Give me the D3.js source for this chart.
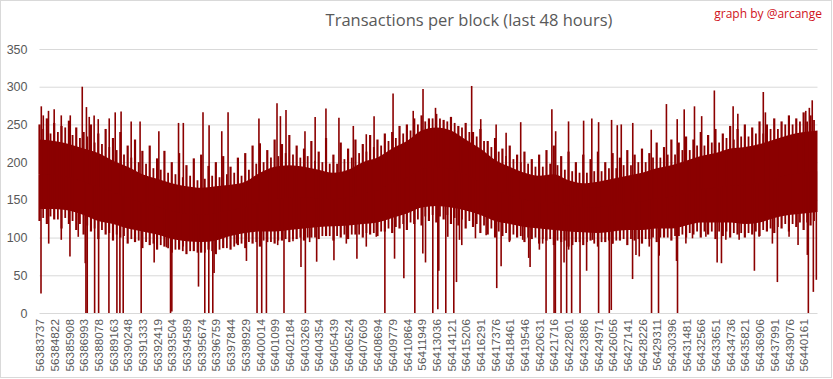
<!DOCTYPE html>
<html>
<head>
<meta charset="utf-8">
<script src="https://cdn.jsdelivr.net/npm/d3@7"></script>
<style>
	body { margin: 0; background: #fff; }
	svg { display: block; }
</style>
</head>
<body>
<div id="chart"></div>
<script>
var firstBlock = 56383737,
	lastBlock = 56441186;

// category labels shown on the x axis (every 1085th block)
var tickLabels = [
	"56383737", "56384822", "56385908", "56386993", "56388078", "56389163", "56390248", "56391333",
	"56392419", "56393504", "56394589", "56395674", "56396759", "56397844", "56398929", "56400014",
	"56401099", "56402184", "56403269", "56404354", "56405439", "56406524", "56407609", "56408694",
	"56409779", "56410864", "56411949", "56413036", "56414121", "56415206", "56416291", "56417376",
	"56418461", "56419546", "56420631", "56421716", "56422801", "56423886", "56424971", "56426056",
	"56427141", "56428226", "56429311", "56430396", "56431481", "56432566", "56433651", "56434736",
	"56435821", "56436906", "56437991", "56439076", "56440161"
];

// dense part of the series, upper and lower edge at each label (+ last block)
var coreTop = [
	230, 228, 224, 218, 212, 202, 194, 184, 178, 172, 168, 166, 168, 170, 174, 186, 194, 196,
	194, 190, 186, 190, 200, 206, 218, 228, 242, 246, 242, 230, 218, 203, 194, 186, 182, 184,
	176, 172, 174, 178, 182, 186, 192, 196, 202, 208, 212, 218, 220, 224, 230, 236, 240, 242
];
var coreBottom = [
	138, 138, 136, 130, 122, 118, 112, 108, 104, 98, 95, 94, 96, 102, 106, 108, 108, 110,
	112, 114, 115, 116, 118, 120, 126, 132, 140, 142, 140, 136, 130, 122, 118, 114, 112, 110,
	108, 107, 106, 108, 110, 110, 112, 112, 116, 120, 120, 120, 118, 120, 126, 130, 132, 134
];

// how far the crowded spikes reach, at each label and half way to the next
var upperFringe = [
	250, 258, 252, 248, 255, 246, 240, 250, 238, 244, 232, 240, 222, 230, 215, 222, 205, 215,
	200, 212, 196, 205, 210, 195, 200, 208, 194, 206, 212, 222, 225, 216, 230, 224, 236, 222,
	218, 228, 214, 232, 210, 226, 218, 230, 224, 236, 230, 238, 240, 248, 250, 258, 262, 258,
	264, 256, 260, 248, 252, 240, 244, 228, 232, 218, 222, 210, 214, 204, 210, 216, 222, 208,
	214, 200, 210, 204, 214, 200, 212, 206, 216, 210, 218, 212, 226, 220, 230, 226, 234, 230,
	240, 236, 244, 238, 248, 244, 250, 246, 254, 250, 258, 254, 262, 258, 266, 262
];
var lowerFringe = [
	122, 118, 124, 112, 118, 110, 104, 108, 98, 104, 96, 100, 92, 94, 86, 90, 84, 88,
	80, 84, 78, 82, 80, 84, 78, 86, 84, 90, 86, 92, 88, 94, 92, 96, 94, 98,
	96, 100, 98, 102, 96, 100, 98, 104, 100, 104, 102, 108, 106, 112, 110, 118, 116, 122,
	120, 124, 118, 116, 112, 114, 106, 104, 100, 102, 96, 100, 94, 98, 92, 96, 90, 94,
	88, 94, 90, 96, 88, 94, 92, 96, 90, 96, 92, 98, 94, 100, 96, 102, 100, 104,
	100, 104, 98, 102, 100, 104, 100, 104, 102, 108, 106, 112, 108, 114, 110, 116
];

// closer spikes, a quarter and three quarters of the way between labels
var innerUpper = [
	244, 238, 240, 246, 236, 232, 234, 226, 224, 220, 216, 210, 206, 200, 198, 192, 190, 186,
	184, 180, 182, 176, 178, 182, 180, 184, 186, 182, 190, 198, 200, 206, 208, 212, 210, 206,
	208, 202, 200, 198, 198, 204, 206, 212, 214, 220, 222, 228, 232, 238, 242, 250, 254, 258,
	258, 254, 252, 246, 240, 234, 228, 220, 214, 208, 204, 200, 198, 194, 194, 198, 196, 190,
	188, 186, 186, 188, 188, 192, 192, 196, 196, 200, 200, 206, 206, 210, 210, 216, 216, 222,
	222, 226, 226, 232, 230, 234, 234, 238, 238, 244, 244, 250, 250, 254, 254, 256
];
var innerLower = [
	126, 128, 124, 126, 122, 118, 116, 112, 110, 106, 104, 102, 98, 96, 94, 92, 90, 86,
	84, 82, 82, 80, 80, 82, 84, 86, 88, 92, 94, 94, 96, 94, 96, 98, 98, 100,
	100, 100, 102, 102, 102, 104, 104, 104, 106, 106, 108, 112, 114, 118, 120, 124, 128, 130,
	128, 130, 126, 124, 122, 118, 116, 112, 108, 106, 104, 102, 100, 100, 98, 98, 96, 96,
	94, 94, 94, 92, 94, 96, 96, 98, 98, 98, 98, 100, 100, 100, 102, 104, 106, 108,
	108, 108, 108, 108, 106, 106, 106, 108, 110, 112, 114, 118, 118, 120, 120, 122
];

// single blocks going above the dense part [block, transactions]
var peaks = [
	[56383870, 274], [56384017, 262], [56384401, 268], [56384821, 270], [56385345, 262], [56386009, 262],
	[56386894, 300], [56387203, 273], [56387410, 260], [56387771, 262], [56388074, 257], [56388885, 258],
	[56389327, 266], [56389762, 267], [56390507, 254], [56391164, 254], [56392550, 241], [56394003, 252],
	[56394357, 252], [56395810, 266], [56396260, 249], [56397196, 241], [56397661, 266], [56399940, 258],
	[56401275, 278], [56401526, 261], [56401939, 269], [56403340, 241], [56404092, 260], [56404889, 271],
	[56405847, 259], [56406909, 248], [56407868, 237], [56408443, 261], [56409845, 291], [56411334, 268],
	[56412057, 297], [56412979, 272], [56415649, 301], [56416320, 257], [56417456, 250], [56418193, 239],
	[56419270, 253], [56421571, 270], [56421851, 241], [56422802, 254], [56423916, 255], [56424521, 258],
	[56425022, 253], [56425981, 256], [56426401, 249], [56426696, 250], [56427545, 252], [56428909, 243],
	[56430030, 277], [56430826, 257], [56431343, 270], [56432102, 274], [56432633, 261], [56433570, 295],
	[56434956, 274], [56435303, 264], [56437184, 293], [56437339, 266], [56440318, 268], [56440583, 272],
	[56440797, 282]
];

// single blocks going below the dense part [block, transactions]
var dips = [
	[56383848, 26], [56384416, 92], [56385345, 97], [56385986, 75], [56386599, 101], [56387115, 66],
	[56387166, 0], [56387262, 0], [56387808, 0], [56388103, 0], [56388863, 0], [56389453, 0],
	[56389674, 0], [56389917, 0], [56391245, 0], [56392204, 67], [56393118, 87], [56393413, 0],
	[56393509, 2], [56394342, 88], [56395478, 35], [56395943, 0], [56396238, 0], [56396533, 0],
	[56396629, 53], [56398281, 92], [56399018, 69], [56399800, 0], [56400146, 0], [56400493, 0],
	[56401326, 90], [56401791, 0], [56402455, 95], [56403045, 61], [56403369, 0], [56403686, 94],
	[56404203, 68], [56405479, 70], [56406393, 92], [56407175, 72], [56407868, 88], [56408606, 101],
	[56409240, 0], [56409955, 72], [56410641, 46], [56411452, 0], [56412042, 79], [56412241, 67],
	[56412780, 0], [56413149, 5], [56413222, 56], [56413739, 0], [56413886, 101], [56414329, 0],
	[56414528, 41], [56414749, 97], [56414919, 90], [56415929, 99], [56416718, 103], [56417500, 33],
	[56417824, 62], [56418436, 94], [56419417, 97], [56419860, 73], [56419963, 61], [56420649, 84],
	[56420892, 92], [56421143, 0], [56421733, 0], [56421829, 0], [56422249, 0], [56422471, 67],
	[56422662, 0], [56422810, 84], [56423031, 0], [56423105, 90], [56423651, 0], [56424137, 56],
	[56424580, 97], [56425022, 0], [56425811, 0], [56425959, 4], [56426055, 92], [56427530, 45],
	[56427781, 77], [56428024, 75], [56428761, 88], [56428931, 0], [56429447, 0], [56429499, 76],
	[56430775, 69], [56430849, 0], [56431468, 92], [56431955, 99], [56432943, 101], [56433776, 67],
	[56434094, 66], [56434418, 97], [56435399, 97], [56436527, 56], [56436874, 101], [56437855, 92],
	[56438224, 41], [56439086, 101], [56439750, 90], [56440436, 77], [56440510, 0], [56440879, 28],
	[56441100, 44]
];

var yTicks = [0, 50, 100, 150, 200, 250, 300, 350];

var width = 833,
	height = 379,
	plot = { left: 39.5, right: 817.5, top: 49, bottom: 313 },
	lineColor = "#8b0000",
	gridColor = "#d9d9d9",
	textColor = "#595959";

var svg = d3.select("#chart")
	.append("svg")
	.attr("width", width)
	.attr("height", height);

svg.append("rect")
	.attr("x", 0.5).attr("y", 0.5)
	.attr("width", width - 2).attr("height", height - 2)
	.attr("fill", "#fff")
	.attr("stroke", gridColor);

var coreBlocks = tickLabels.map(Number).concat([lastBlock]);

// positions between two labels, as a share of the gap
function between(shares) {
	var out = [];
	tickLabels.forEach((t, i) => {
		shares.forEach(s => out.push(coreBlocks[i] + s * (coreBlocks[i + 1] - coreBlocks[i])));
	});
	return out;
}
var fringeBlocks = between([0, 0.5]);
var innerBlocks = between([0.25, 0.75]);

var x = d3.scaleLinear().domain([firstBlock, lastBlock]).range([plot.left, plot.right]);
var y = d3.scaleLinear().domain([0, 350]).range([plot.bottom, plot.top]);

// gridlines + y labels
var yAxis = svg.append("g")
	.attr("transform", "translate(" + plot.left + ",0)")
	.call(d3.axisLeft(y).tickValues(yTicks).tickSize(-(plot.right - plot.left)).tickPadding(12));
yAxis.select(".domain").remove();
yAxis.selectAll("line").attr("stroke", gridColor);
yAxis.selectAll("text")
	.attr("fill", textColor)
	.style("font-family", "'Liberation Sans', Arial, sans-serif")
	.style("font-size", "12.5px");

// x labels, rotated
var xAxis = svg.append("g")
	.attr("transform", "translate(0," + plot.bottom + ")")
	.call(d3.axisBottom(x).tickValues(coreBlocks.slice(0, tickLabels.length))
		.tickFormat((d, i) => tickLabels[i]).tickSize(0));
xAxis.select(".domain").remove();
xAxis.selectAll("text")
	.attr("transform", "rotate(-90)")
	.attr("text-anchor", "end")
	.attr("x", -6)
	.attr("y", 0)
	.attr("dy", "0.35em")
	.attr("fill", textColor)
	.style("font-family", "'Liberation Sans', Arial, sans-serif")
	.style("font-size", "11.8px");

// the series
var series = svg.append("g");

var area = d3.area()
	.x((d, i) => x(coreBlocks[i]))
	.y0((d, i) => y(coreBottom[i]))
	.y1((d, i) => y(coreTop[i]))
	.curve(d3.curveMonotoneX);

series.append("path")
	.datum(coreTop)
	.attr("d", area)
	.attr("fill", lineColor);

var coreMid = d3.scaleLinear()
	.domain(coreBlocks)
	.range(coreBlocks.map((b, i) => (coreTop[i] + coreBottom[i]) / 2));

function drawSpikes(list, cls, w) {
	series.selectAll("line." + cls)
		.data(list)
		.enter()
		.append("line")
		.attr("class", cls)
		.attr("x1", d => x(d[0]))
		.attr("x2", d => x(d[0]))
		.attr("y1", d => y(d[1]))
		.attr("y2", d => y(coreMid(d[0])))
		.attr("stroke", lineColor)
		.attr("stroke-width", w);
}

drawSpikes(fringeBlocks.map((b, i) => [b, upperFringe[i]]), "upper", 2.2);
drawSpikes(fringeBlocks.map((b, i) => [b, lowerFringe[i]]), "lower", 2.2);
drawSpikes(innerBlocks.map((b, i) => [b, innerUpper[i]]), "innerUp", 1.8);
drawSpikes(innerBlocks.map((b, i) => [b, innerLower[i]]), "innerLow", 1.8);
drawSpikes(peaks, "peak", 1.6);
drawSpikes(dips, "dip", 1.6);

// titles
svg.append("text")
	.attr("x", 469)
	.attr("y", 26)
	.attr("text-anchor", "middle")
	.attr("fill", textColor)
	.style("font-family", "'Open Sans', sans-serif")
	.style("font-size", "16.5px")
	.text("Transactions per block (last 48 hours)");

svg.append("text")
	.attr("x", 822)
	.attr("y", 18)
	.attr("text-anchor", "end")
	.attr("fill", "#d0121b")
	.style("font-family", "'Open Sans', sans-serif")
	.style("font-size", "12px")
	.text("graph by @arcange");
</script>
</body>
</html>
